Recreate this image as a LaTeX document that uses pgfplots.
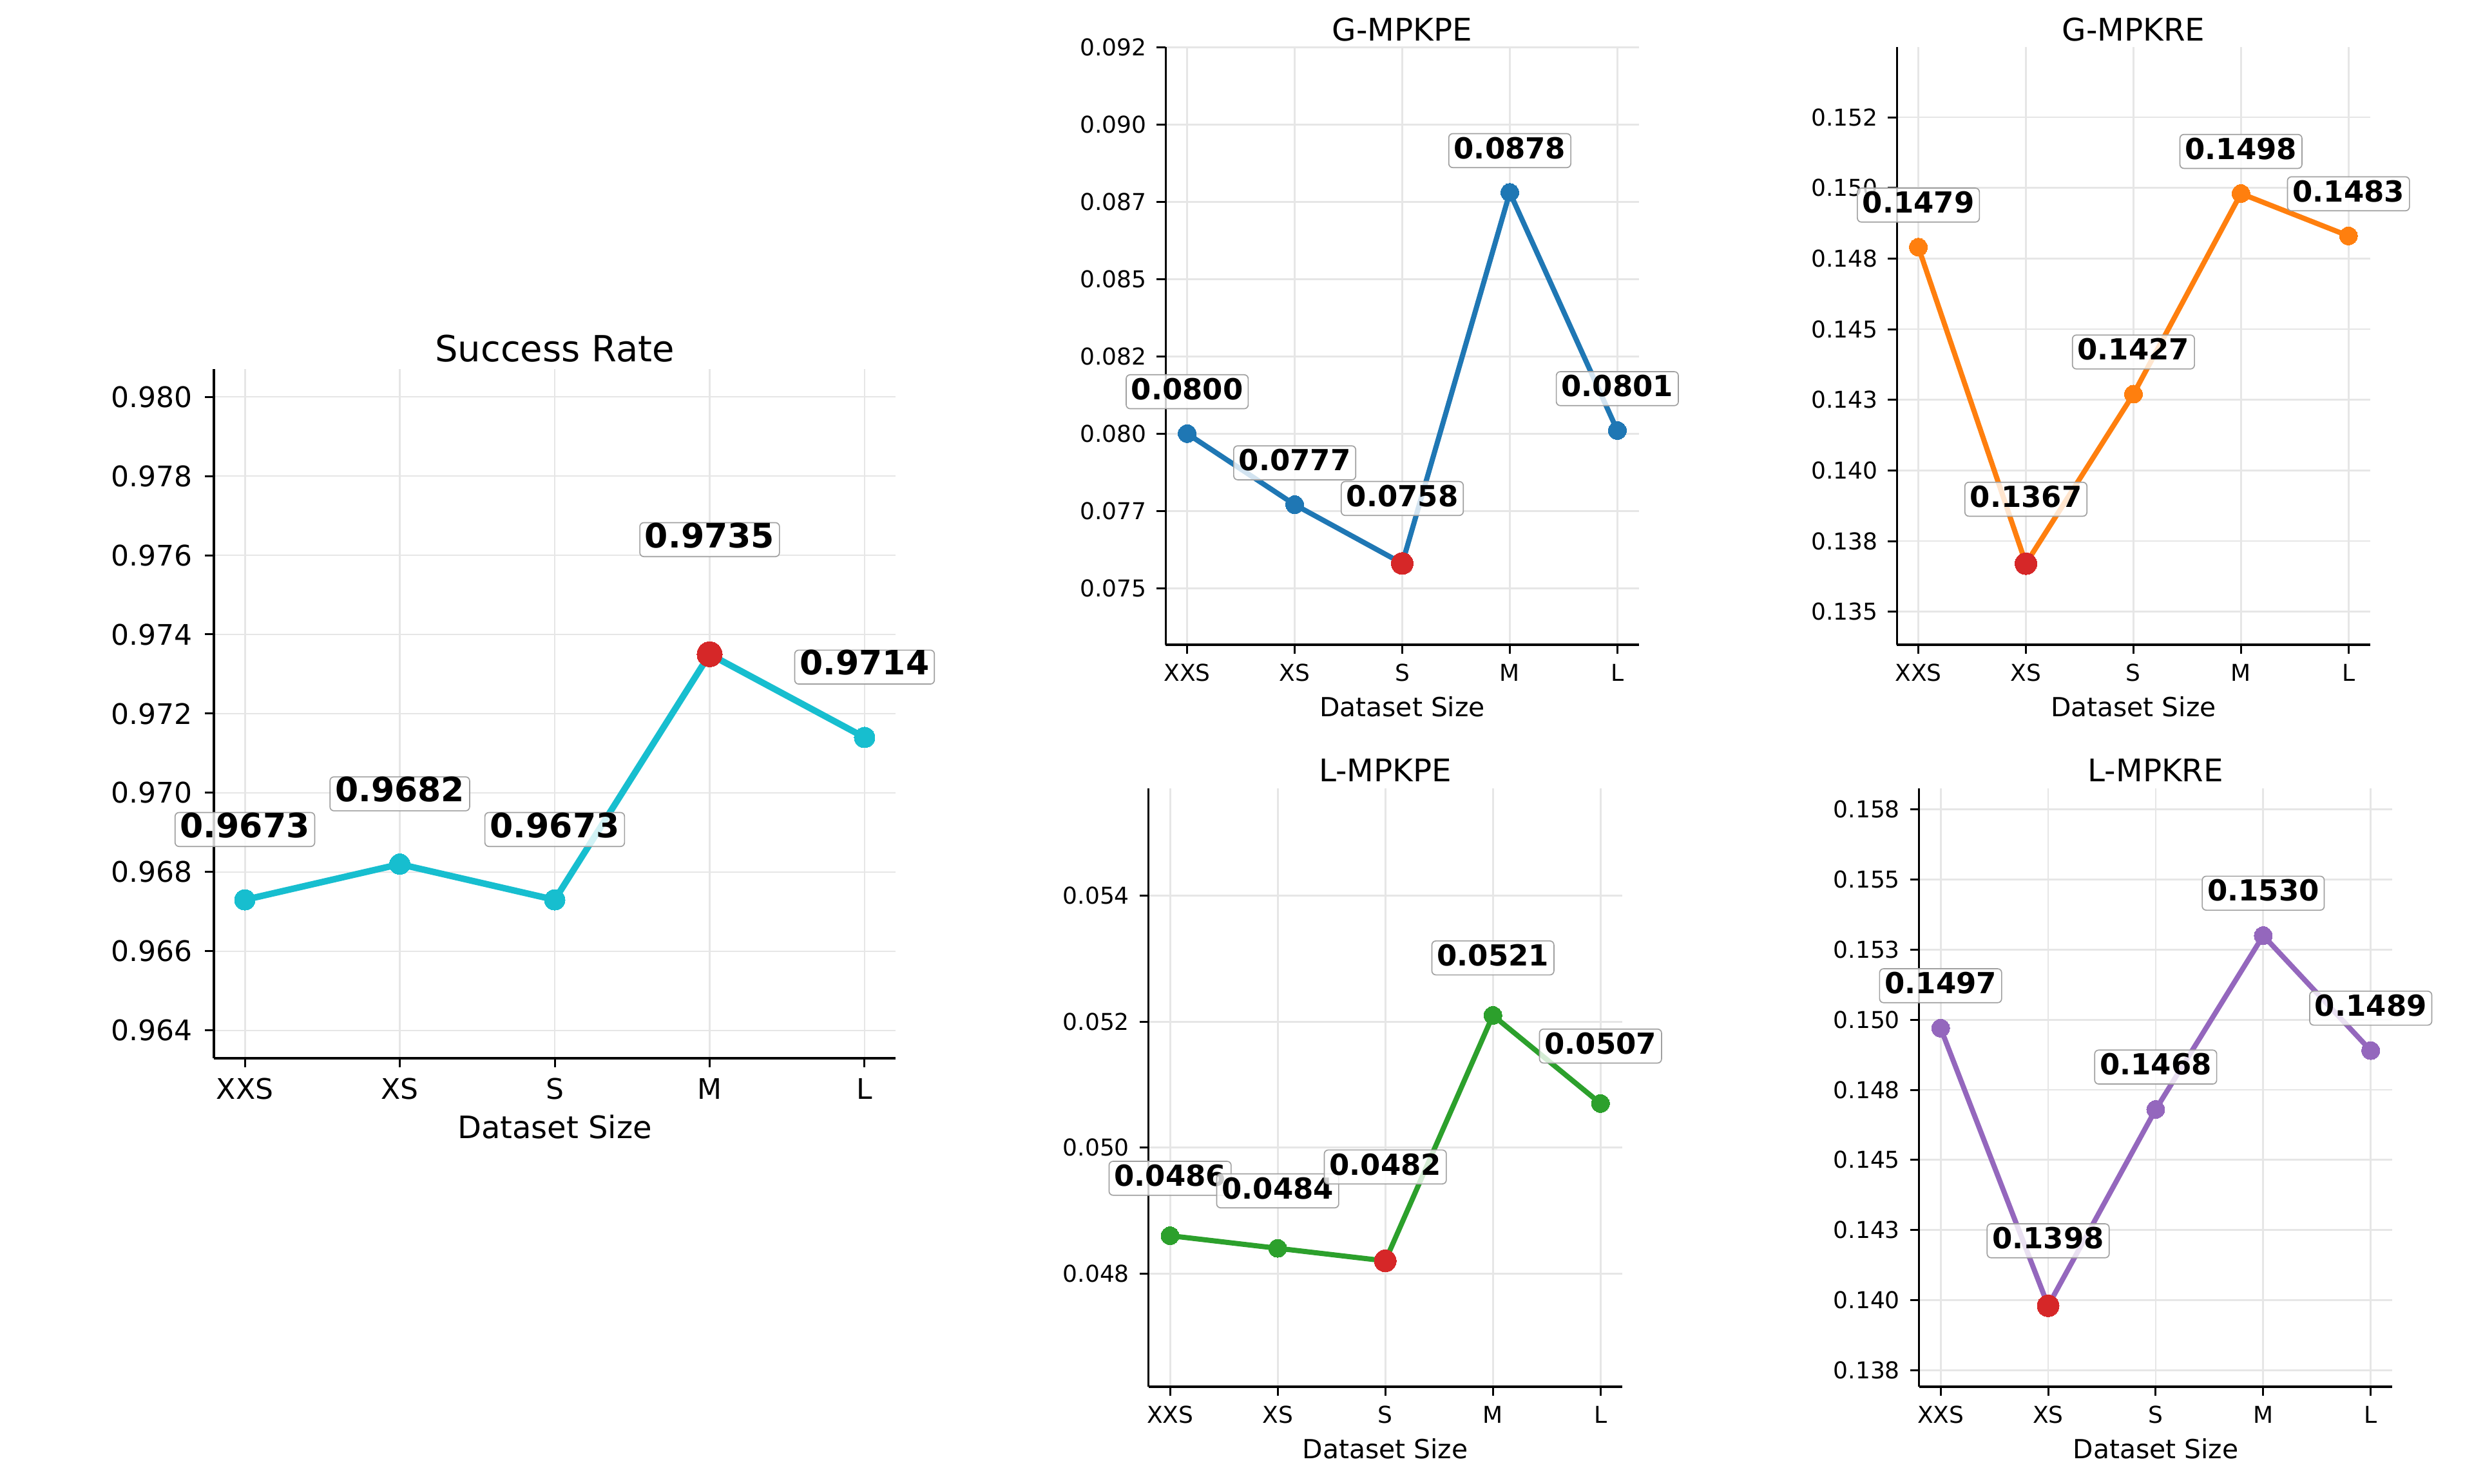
\documentclass[border=0pt]{standalone}
\usepackage{pgfplots}
\pgfplotsset{compat=1.18}
\usepackage{fontspec}
\setmainfont{DejaVu Sans}
\definecolor{tabcyan}{HTML}{17BECF}
\definecolor{tabblue}{HTML}{1F77B4}
\definecolor{taborange}{HTML}{FF7F0E}
\definecolor{tabgreen}{HTML}{2CA02C}
\definecolor{tabpurple}{HTML}{9467BD}
\definecolor{tabred}{HTML}{D62728}
\definecolor{gridgray}{HTML}{E6E6E6}
\definecolor{boxgray}{HTML}{A0A0A0}
\pgfplotsset{
  mpl/.style={
    scale only axis,
    axis lines*=left,
    axis line style={line width=0.8bp, black, -},
    tick align=outside,
    major tick length=3.36bp,
    every tick/.style={line width=0.72bp, black},
    grid=major,
    grid style={line width=0.68bp, gridgray},
    scaled y ticks=false,
    xmin=-0.2, xmax=4.2,
    xtick={0,1,2,3,4},
    xticklabels={XXS,XS,S,M,L},
    clip=false,
    xlabel={Dataset Size},
    xlabel style={at={(axis description cs:0.5,0)}, anchor=base, inner sep=0pt},
    title style={at={(axis description cs:0.5,1)}, anchor=base, inner sep=0pt},
    yticklabel style={anchor=east, inner sep=0pt},
    xticklabel style={anchor=base, inner sep=0pt},
  },
  big/.style={mpl,
    ticklabel style={font=\fontsize{10.56bp}{12bp}\selectfont},
    xticklabel style={yshift=-12.0bp},
    yticklabel style={xshift=-4.5bp},
    label style={font=\fontsize{11.52bp}{13bp}\selectfont},
    xlabel style={yshift=-30bp},
    title style={font=\fontsize{13.44bp}{15bp}\selectfont, yshift=-3.2bp},
  },
  small/.style={mpl,
    ticklabel style={font=\fontsize{8.64bp}{10bp}\selectfont},
    xticklabel style={yshift=-10.2bp},
    yticklabel style={xshift=-3.6bp},
    label style={font=\fontsize{9.8bp}{11bp}\selectfont},
    xlabel style={yshift=-26.8bp},
    title style={font=\fontsize{11.6bp}{13bp}\selectfont, yshift=-3.6bp},
  },
}
\tikzset{
  lbl/.style={fill=white, fill opacity=0.8, text opacity=1, draw=boxgray, line width=0.4bp,
    rounded corners=1.5bp, inner xsep=0.19em, inner ysep=0.19em, text height=0.74em, text depth=0.15em},
  biglbl/.style={lbl, font=\bfseries\fontsize{12.5bp}{14bp}\selectfont},
  smalllbl/.style={lbl, font=\bfseries\fontsize{10.8bp}{12bp}\selectfont},
}
\begin{document}
\begin{tikzpicture}
\useasboundingbox (0,0) rectangle (921.6bp,552.96bp);

% Success Rate
\begin{axis}[big, at={(79.68bp,158.64bp)}, anchor=south west,
  width=253.92bp, height=256.8bp,
  ymin=0.9633, ymax=0.9807,
  ytick={0.964,0.966,0.968,0.970,0.972,0.974,0.976,0.978,0.980},
  yticklabels={0.964,0.966,0.968,0.970,0.972,0.974,0.976,0.978,0.980},
  title={Success Rate}]
\addplot[tabcyan, line width=2.4bp, mark=*, mark size=3.84bp, mark options={draw=tabcyan, line width=0pt, fill=tabcyan}]
  coordinates {(0,0.9673) (1,0.9682) (2,0.9673) (3,0.9735) (4,0.9714)};
\addplot[draw=none, mark=*, mark size=4.7bp, mark options={draw=tabred, line width=0pt, fill=tabred}]
  coordinates {(3,0.9735)};
\node[biglbl, yshift=26.2bp] at (axis cs:0,0.9673) {0.9673};
\node[biglbl, yshift=26.2bp] at (axis cs:1,0.9682) {0.9682};
\node[biglbl, yshift=26.2bp] at (axis cs:2,0.9673) {0.9673};
\node[biglbl, yshift=42.7bp] at (axis cs:3,0.9735) {0.9735};
\node[biglbl, yshift=26.2bp] at (axis cs:4,0.9714) {0.9714};
\end{axis}

% G-MPKPE
\begin{axis}[small, at={(434.23bp,312.72bp)}, anchor=south west,
  width=176.26bp, height=222.65bp,
  ymin=0.07317, ymax=0.0925,
  ytick={0.075,0.0775,0.08,0.0825,0.085,0.0875,0.09,0.0925},
  yticklabels={0.075,0.077,0.080,0.082,0.085,0.087,0.090,0.092},
  title={G-MPKPE}]
\addplot[tabblue, line width=1.92bp, mark=*, mark size=3.36bp, mark options={draw=tabblue, line width=0pt, fill=tabblue}]
  coordinates {(0,0.0800) (1,0.0777) (2,0.0758) (3,0.0878) (4,0.0801)};
\addplot[draw=none, mark=*, mark size=4.08bp, mark options={draw=tabred, line width=0pt, fill=tabred}]
  coordinates {(2,0.0758)};
\node[smalllbl, yshift=15.6bp] at (axis cs:0,0.0800) {0.0800};
\node[smalllbl, yshift=15.6bp] at (axis cs:1,0.0777) {0.0777};
\node[smalllbl, yshift=24.2bp] at (axis cs:2,0.0758) {0.0758};
\node[smalllbl, yshift=15.6bp] at (axis cs:3,0.0878) {0.0878};
\node[smalllbl, yshift=15.6bp] at (axis cs:4,0.0801) {0.0801};
\end{axis}

% G-MPKRE
\begin{axis}[small, at={(706.61bp,312.72bp)}, anchor=south west,
  width=176.23bp, height=222.65bp,
  ymin=0.13383, ymax=0.15498,
  ytick={0.135,0.1375,0.14,0.1425,0.145,0.1475,0.15,0.1525},
  yticklabels={0.135,0.138,0.140,0.143,0.145,0.148,0.150,0.152},
  title={G-MPKRE}]
\addplot[taborange, line width=1.92bp, mark=*, mark size=3.36bp, mark options={draw=taborange, line width=0pt, fill=taborange}]
  coordinates {(0,0.1479) (1,0.1367) (2,0.1427) (3,0.1498) (4,0.1483)};
\addplot[draw=none, mark=*, mark size=4.08bp, mark options={draw=tabred, line width=0pt, fill=tabred}]
  coordinates {(1,0.1367)};
\node[smalllbl, yshift=15.7bp] at (axis cs:0,0.1479) {0.1479};
\node[smalllbl, yshift=24.0bp] at (axis cs:1,0.1367) {0.1367};
\node[smalllbl, yshift=15.7bp] at (axis cs:2,0.1427) {0.1427};
\node[smalllbl, yshift=15.7bp] at (axis cs:3,0.1498) {0.1498};
\node[smalllbl, yshift=15.7bp] at (axis cs:4,0.1483) {0.1483};
\end{axis}

% L-MPKPE
\begin{axis}[small, at={(427.85bp,36.22bp)}, anchor=south west,
  width=176.38bp, height=223.08bp,
  ymin=0.0462, ymax=0.05571,
  ytick={0.048,0.050,0.052,0.054},
  yticklabels={0.048,0.050,0.052,0.054},
  title={L-MPKPE}]
\addplot[tabgreen, line width=1.92bp, mark=*, mark size=3.36bp, mark options={draw=tabgreen, line width=0pt, fill=tabgreen}]
  coordinates {(0,0.0486) (1,0.0484) (2,0.0482) (3,0.0521) (4,0.0507)};
\addplot[draw=none, mark=*, mark size=4.08bp, mark options={draw=tabred, line width=0pt, fill=tabred}]
  coordinates {(2,0.0482)};
\node[smalllbl, yshift=21.4bp] at (axis cs:0,0.0486) {0.0486};
\node[smalllbl, yshift=21.4bp] at (axis cs:1,0.0484) {0.0484};
\node[smalllbl, yshift=35.0bp] at (axis cs:2,0.0482) {0.0482};
\node[smalllbl, yshift=21.4bp] at (axis cs:3,0.0521) {0.0521};
\node[smalllbl, yshift=21.4bp] at (axis cs:4,0.0507) {0.0507};
\end{axis}

% L-MPKRE
\begin{axis}[small, at={(714.89bp,36.22bp)}, anchor=south west,
  width=176.26bp, height=223.08bp,
  ymin=0.13691, ymax=0.15826,
  ytick={0.1375,0.14,0.1425,0.145,0.1475,0.15,0.1525,0.155,0.1575},
  yticklabels={0.138,0.140,0.143,0.145,0.148,0.150,0.153,0.155,0.158},
  title={L-MPKRE}]
\addplot[tabpurple, line width=1.92bp, mark=*, mark size=3.36bp, mark options={draw=tabpurple, line width=0pt, fill=tabpurple}]
  coordinates {(0,0.1497) (1,0.1398) (2,0.1468) (3,0.1530) (4,0.1489)};
\addplot[draw=none, mark=*, mark size=4.08bp, mark options={draw=tabred, line width=0pt, fill=tabred}]
  coordinates {(1,0.1398)};
\node[smalllbl, yshift=15.8bp] at (axis cs:0,0.1497) {0.1497};
\node[smalllbl, yshift=24.2bp] at (axis cs:1,0.1398) {0.1398};
\node[smalllbl, yshift=15.8bp] at (axis cs:2,0.1468) {0.1468};
\node[smalllbl, yshift=15.8bp] at (axis cs:3,0.1530) {0.1530};
\node[smalllbl, yshift=15.8bp] at (axis cs:4,0.1489) {0.1489};
\end{axis}
\end{tikzpicture}
\end{document}
